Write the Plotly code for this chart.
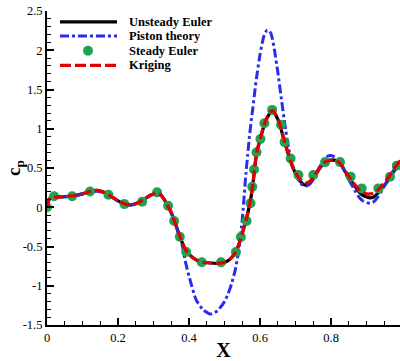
import plotly.graph_objects as go

# ---------------- data ----------------
x_curve = [0, 0.005, 0.01, 0.02, 0.05, 0.08, 0.10, 0.12, 0.14, 0.16, 0.18, 0.20, 0.22, 0.235,
           0.25, 0.27, 0.29, 0.31, 0.32, 0.33, 0.34, 0.35, 0.36, 0.37, 0.38, 0.39, 0.40, 0.42,
           0.44, 0.46, 0.48, 0.50, 0.51, 0.52, 0.53, 0.54, 0.55, 0.56, 0.565, 0.57, 0.575, 0.58,
           0.585, 0.59, 0.60, 0.61, 0.62, 0.63, 0.635, 0.64, 0.65, 0.66, 0.67, 0.68, 0.69, 0.70,
           0.71, 0.72, 0.73, 0.74, 0.75, 0.76, 0.77, 0.78, 0.79, 0.80, 0.81, 0.82, 0.83, 0.84,
           0.85, 0.86, 0.87, 0.88, 0.89, 0.90, 0.91, 0.92, 0.93, 0.94, 0.95, 0.96, 0.97, 0.98,
           0.99, 1.0]

unsteady_euler = [0, 0.09, 0.12, 0.13, 0.135, 0.15, 0.17, 0.20, 0.215, 0.19, 0.14, 0.08, 0.04, 0.03,
                  0.045, 0.09, 0.15, 0.18, 0.16, 0.10, 0.02, -0.07, -0.19, -0.32, -0.44, -0.54, -0.60, -0.67,
                  -0.70, -0.71, -0.715, -0.70, -0.68, -0.64, -0.58, -0.48, -0.33, -0.17, -0.08, 0.02, 0.14, 0.30,
                  0.50, 0.68, 0.86, 1.02, 1.14, 1.21, 1.22, 1.20, 1.12, 0.98, 0.81, 0.67, 0.53, 0.43,
                  0.35, 0.30, 0.28, 0.30, 0.36, 0.44, 0.51, 0.56, 0.59, 0.60, 0.60, 0.58, 0.53, 0.45,
                  0.38, 0.31, 0.25, 0.19, 0.15, 0.13, 0.12, 0.13, 0.17, 0.22, 0.28, 0.34, 0.41, 0.48,
                  0.54, 0.60]

kriging = [0, 0.10, 0.12, 0.13, 0.135, 0.15, 0.17, 0.20, 0.215, 0.19, 0.14, 0.08, 0.04, 0.03,
           0.045, 0.09, 0.15, 0.18, 0.16, 0.10, 0.02, -0.07, -0.19, -0.32, -0.44, -0.54, -0.60, -0.67,
           -0.70, -0.71, -0.715, -0.70, -0.68, -0.64, -0.58, -0.48, -0.33, -0.17, -0.08, 0.02, 0.15, 0.31,
           0.51, 0.69, 0.87, 1.03, 1.15, 1.22, 1.23, 1.21, 1.13, 0.99, 0.82, 0.68, 0.54, 0.44,
           0.37, 0.33, 0.31, 0.33, 0.38, 0.45, 0.52, 0.57, 0.59, 0.60, 0.60, 0.58, 0.53, 0.46,
           0.39, 0.33, 0.27, 0.22, 0.19, 0.17, 0.17, 0.18, 0.21, 0.26, 0.31, 0.37, 0.44, 0.51,
           0.57, 0.63]

piston_theory = [0, 0.09, 0.12, 0.13, 0.135, 0.15, 0.17, 0.19, 0.205, 0.185, 0.14, 0.08, 0.04, 0.03,
                 0.045, 0.09, 0.15, 0.175, 0.155, 0.10, 0.02, -0.07, -0.19, -0.33, -0.47, -0.70, -0.88, -1.18,
                 -1.31, -1.36, -1.32, -1.20, -1.10, -0.97, -0.80, -0.55, -0.15, 0.42, 0.66, 0.90, 1.10, 1.28,
                 1.47, 1.65, 1.95, 2.17, 2.26, 2.22, 2.14, 2.02, 1.72, 1.38, 1.05, 0.76, 0.55, 0.42,
                 0.33, 0.28, 0.27, 0.30, 0.36, 0.45, 0.53, 0.60, 0.65, 0.66, 0.64, 0.60, 0.53, 0.44,
                 0.35, 0.27, 0.19, 0.12, 0.08, 0.06, 0.05, 0.07, 0.12, 0.19, 0.27, 0.35, 0.43, 0.50,
                 0.56, 0.62]

x_steady = [0, 0.02, 0.071, 0.121, 0.173, 0.218, 0.268, 0.310, 0.341, 0.358, 0.374, 0.392, 0.436,
            0.490, 0.532, 0.546, 0.562, 0.573, 0.578, 0.583, 0.590, 0.601, 0.612, 0.634, 0.659,
            0.669, 0.686, 0.708, 0.750, 0.783, 0.825, 0.855, 0.886, 0.933, 0.966, 0.985]
steady_euler = [0, 0.14, 0.14, 0.20, 0.16, 0.04, 0.07, 0.19, 0.02, -0.175, -0.375, -0.57, -0.70,
                -0.70, -0.57, -0.38, -0.175, 0.05, 0.26, 0.48, 0.70, 0.87, 1.07, 1.24, 1.05,
                0.83, 0.62, 0.41, 0.41, 0.575, 0.575, 0.39, 0.24, 0.24, 0.39, 0.53]

x_tick_vals = [0, 0.2, 0.4, 0.6, 0.8, 1.0]
x_tick_text = ["0", "0.2", "0.4", "0.6", "0.8", "1"]
y_tick_vals = [-1.5, -1, -0.5, 0, 0.5, 1, 1.5, 2, 2.5]
y_tick_text = ["-1.5", "-1", "-0.5", "0", "0.5", "1", "1.5", "2", "2.5"]

legend_names = ["Unsteady Euler", "Piston theory", "Steady Euler", "Kriging"]

# ---------------- style ----------------
SERIF = "Liberation Serif, Times New Roman, Times, DejaVu Serif, serif"
BLACK = "#000000"
BLUE = "#2b2bf0"
GREEN = "#1fa352"
RED = "#e00000"

fig = go.Figure()
fig.add_trace(go.Scatter(x=x_curve, y=unsteady_euler, mode="lines", name=legend_names[0],
                         line=dict(color=BLACK, width=3.2, shape="spline", smoothing=0.5)))
fig.add_trace(go.Scatter(x=x_curve, y=piston_theory, mode="lines", name=legend_names[1],
                         line=dict(color=BLUE, width=3, dash="9px,3px,3px,3px", shape="spline", smoothing=0.5)))
fig.add_trace(go.Scatter(x=x_steady, y=steady_euler, mode="markers", name=legend_names[2],
                         marker=dict(color=GREEN, size=10, line=dict(width=0))))
fig.add_trace(go.Scatter(x=x_curve, y=kriging, mode="lines", name=legend_names[3],
                         line=dict(color=RED, width=3.2, dash="10px,4px", shape="spline", smoothing=0.5)))

L, T, R, B = 47, 11, 0, 30
W, H = 400, 361
pw, ph = W - L - R, H - T - B


def pxx(p):
    return (p - L) / pw


def pxy(p):
    return (H - B - p) / ph


shapes = []
annotations = []
rows = [22, 36.5, 51.5, 66.5]
styles = [dict(color=BLACK, width=3.2), dict(color=BLUE, width=3, dash="9px,3px,3px,3px"), None,
          dict(color=RED, width=3.2, dash="11px,4px")]
for name, row, st in zip(legend_names, rows, styles):
    if st is None:
        shapes.append(dict(type="circle", xref="paper", yref="paper",
                           x0=pxx(83), x1=pxx(93), y0=pxy(row + 5), y1=pxy(row - 5),
                           fillcolor=GREEN, line=dict(width=0)))
    else:
        shapes.append(dict(type="line", xref="paper", yref="paper",
                           x0=pxx(60), x1=pxx(117), y0=pxy(row), y1=pxy(row), line=st))
    annotations.append(dict(xref="paper", yref="paper", x=pxx(127), y=pxy(row),
                            xanchor="left", yanchor="middle", showarrow=False,
                            text="<b>%s</b>" % name, font=dict(family=SERIF, size=12.5, color=BLACK)))

annotations.append(dict(xref="paper", yref="paper", x=pxx(15), y=pxy(171), textangle=-90,
                        xanchor="center", yanchor="middle", showarrow=False,
                        text="<b>c<sub>p</sub></b>", font=dict(family=SERIF, size=19, color=BLACK)))

axis_common = dict(showline=True, linecolor=BLACK, linewidth=2, showgrid=False, zeroline=False,
                   ticks="inside", ticklen=7, tickwidth=1.5, tickcolor=BLACK,
                   tickfont=dict(family=SERIF, size=12.5, color=BLACK), mirror=False)

fig.update_layout(
    width=W, height=H, margin=dict(l=L, r=R, t=T, b=B),
    paper_bgcolor="white", plot_bgcolor="white", showlegend=False,
    font=dict(family=SERIF, color=BLACK),
    shapes=shapes, annotations=annotations,
    xaxis=dict(range=[0, 0.994], tickmode="array", tickvals=x_tick_vals, ticktext=x_tick_text,
               minor=dict(ticks="inside", ticklen=4, tickwidth=1, tickcolor=BLACK,
                          tickmode="linear", tick0=0, dtick=0.05, showgrid=False),
               title=dict(text="<b>X</b>", font=dict(family=SERIF, size=20, color=BLACK), standoff=2),
               **axis_common),
    yaxis=dict(range=[-1.5, 2.5], tickmode="array", tickvals=y_tick_vals, ticktext=y_tick_text,
               minor=dict(ticks="inside", ticklen=4, tickwidth=1, tickcolor=BLACK,
                          tickmode="linear", tick0=0, dtick=0.1, showgrid=False),
               **axis_common),
)

fig.write_html("out.html")
